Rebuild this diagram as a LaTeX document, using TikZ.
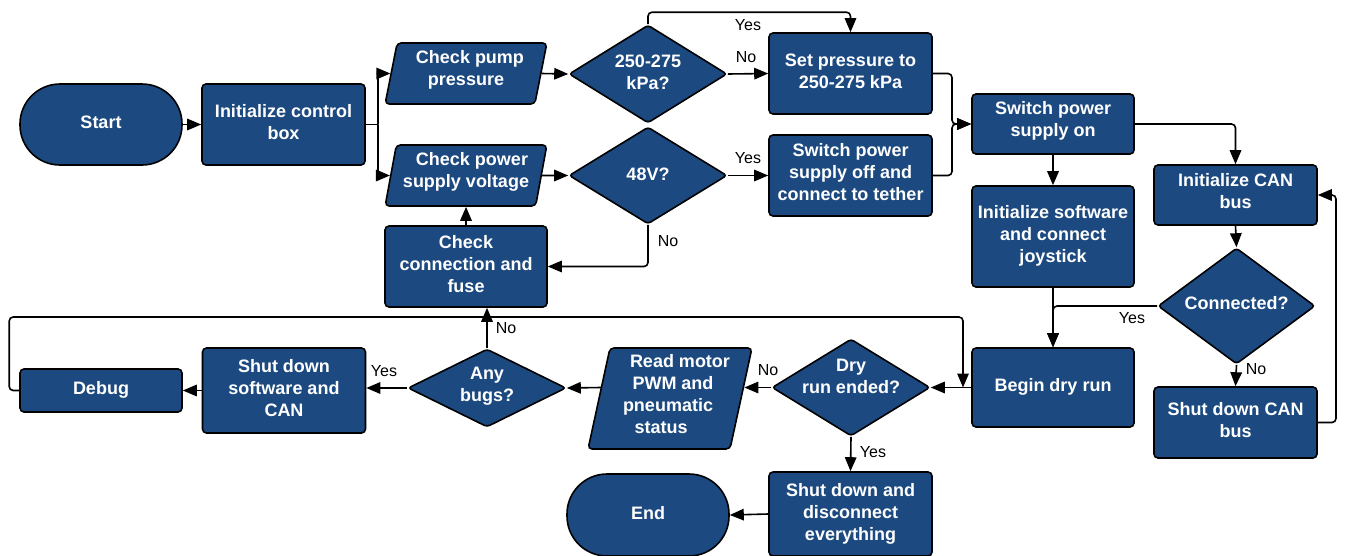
\documentclass[tikz,border=0pt]{standalone}
\usepackage{fontspec}
\setmainfont{Liberation Sans}
\usetikzlibrary{shapes.geometric,arrows.meta,calc}
\definecolor{boxblue}{RGB}{28,74,128}
\newcommand{\tx}[2][0]{\raisebox{#1pt}[\height][\depth]{\begin{tabular}{@{}c@{}}#2\end{tabular}}}
\begin{document}
\begin{tikzpicture}[x=1pt,y=-1pt,
  base/.style={draw=black, line width=1.6pt, fill=boxblue, text=white, font=\bfseries\fontsize{18}{22}\selectfont, inner sep=0pt},
  box/.style={base, rectangle, rounded corners=4pt},
  term/.style={base, rectangle, rounded corners=40pt},
  para/.style={base, trapezium, trapezium stretches=true, rounded corners=4pt},
  dec/.style={base, diamond, rounded corners=3pt},
  dtext/.style={text=white, font=\bfseries\fontsize{18}{22}\selectfont, inner sep=0pt},
  lbl/.style={font=\fontsize{16}{19}\selectfont, inner sep=0pt},
  flow/.style={line width=1.6pt, -{Triangle[length=14pt,width=11.5pt]}, rounded corners=4pt},
  plainline/.style={line width=1.6pt, rounded corners=4pt}]
\useasboundingbox (0,0) rectangle (1346,555);
\clip (0,0) rectangle (1346,555);

% process and terminal nodes
\node[term, minimum width=162pt, minimum height=81pt] (start) at (101,124.5) {\tx{Start}};
\node[box, minimum width=163pt, minimum height=81pt] (init) at (283.5,124.5) {\tx{Initialize control\\box}};
\node[para, trapezium left angle=77, trapezium right angle=103, minimum width=162pt, minimum height=61pt] (pump) at (466,73.5) {\tx[3]{\hspace*{8pt}Check pump\\pressure}};
\node[para, trapezium left angle=77, trapezium right angle=103, minimum width=162pt, minimum height=61pt] (volt) at (466,175.5) {\tx[3]{\hspace*{12pt}Check power\\supply voltage}};
\node[box, minimum width=162pt, minimum height=81pt] (conn) at (466,266.5) {\tx{Check\\connection and\\fuse}};
\node[box, minimum width=163pt, minimum height=81pt] (setp) at (850.5,73.5) {\tx{Set pressure to\\250-275 kPa}};
\node[box, minimum width=163pt, minimum height=81pt] (swoff) at (850.5,175.5) {\tx[1]{Switch power\\supply off and\\connect to tether}};
\node[box, minimum width=162pt, minimum height=60pt] (swon) at (1053,124) {\tx[3]{Switch power\\supply on}};
\node[box, minimum width=162pt, minimum height=101pt] (initsw) at (1053,236.5) {\tx{Initialize software\\and connect\\joystick}};
\node[box, minimum width=163pt, minimum height=60pt] (initcan) at (1235.5,195) {\tx[2]{Initialize CAN\\bus}};
\node[box, minimum width=163pt, minimum height=71pt] (shutcan) at (1235.5,422.5) {\tx{Shut down CAN\\bus}};
\node[box, minimum width=162pt, minimum height=79pt] (begin) at (1053,387.5) {\tx{Begin dry run}};
\node[para, trapezium left angle=76, trapezium right angle=104, minimum width=160pt, minimum height=101pt] (read) at (670,398.5) {\tx[2]{\hspace*{20pt}Read motor\\\hspace*{6pt}PWM and\\pneumatic\hspace*{4pt}\\status\hspace*{18pt}}};
\node[box, minimum width=163pt, minimum height=85pt] (shutsw) at (284,390.5) {\tx{Shut down\\software and\\CAN}};
\node[box, minimum width=162pt, minimum height=43pt] (debug) at (101,390.5) {\tx{Debug}};
\node[box, minimum width=163pt, minimum height=84pt] (shutall) at (850.5,514) {\tx{Shut down and\\disconnect\\everything}};
\node[term, minimum width=162pt, minimum height=82pt] (endn) at (648,515) {\tx{End}};

% decision nodes (shape) and their texts
\node[dec, minimum width=158pt, minimum height=98pt] (d1) at (648,74) {};
\node[dtext] (d1t) at (d1) {\tx{250-275\\kPa?}};
\node[dec, minimum width=158pt, minimum height=97pt] (d2) at (648,175.5) {};
\node[dtext] (d2t) at (d2) {\tx[-1]{48V?}};
\node[dec, minimum width=157pt, minimum height=116pt] (dconn) at (1236.5,306) {};
\node[dtext] (dconnt) at (dconn) {\tx[1]{Connected?}};
\node[dec, minimum width=158pt, minimum height=97pt] (ddry) at (851,387.5) {};
\node[dtext] (ddryt) at (ddry) {\tx[9]{Dry\\run ended?}};
\node[dec, minimum width=158pt, minimum height=78pt] (dbugs) at (487,388) {};
\node[dtext] (dbugst) at (dbugs) {\tx[2]{Any\\bugs?}};

% helper coordinates
\coordinate (split) at (378,124.5);
\coordinate (merge) at (952,124);
\coordinate (canloop) at (1336,422.5);
\coordinate (looptop) at (963,317);
\coordinate (mergedry) at (963,387.5);

% connectors
\draw[flow] (start) -- (init);
\draw[plainline] (init.east) -- (split);
\draw[flow] (split) |- (pump.west);
\draw[flow] (split) |- (volt.west);
\draw[flow] (pump.east) -- (d1.west);
\draw[flow] (volt.east) -- (d2.west);
\draw[flow] (d1.east) -- (setp.west);
\draw[flow] (d1.north) -- ++(0,-12) -| (setp.north);
\draw[flow] (d2.east) -- (swoff.west);
\draw[flow] (d2.south) |- (conn.east);
\draw[flow] (conn.north) -- (volt.south);
\draw[flow] (setp.east) -| (merge) -- (swon.west);
\draw[flow] (swoff.east) -| (merge) -- (swon.west);
\draw[flow] (swon.east) -| (initcan.north);
\draw[flow] (swon.south) -- (initsw.north);
\draw[flow] (initsw.south) -- (begin.north);
\draw[flow] (initcan.south) -- (dconn.north);
\draw[flow] (dconn.west) -| (begin.north);
\draw[flow] (dconn.south) -- (shutcan.north);
\draw[flow] (shutcan.east) -- (canloop) |- (initcan.east);
\draw[flow] (begin.west) -- (ddry.east);
\draw[flow] (ddry.west) -- ($(ddry.west -| read.east)+(2.6,0)$);
\draw[flow] ($(ddry.west -| read.west)+(2.6,0)$) -- (dbugs.east);
\draw[flow] (dbugs.west) -- (dbugs.west -| shutsw.east);
\draw[flow] (dbugs.north) -- (dbugs.north |- conn.south);
\draw[flow] (shutsw.west) -- (debug.east);
\draw[flow] (debug.west) -- ++(-10,0) |- (looptop) -- (mergedry);
\draw[flow] (ddry.south) -- (shutall.north);
\draw[flow] (shutall.west) -- (endn.east);

% labels
\node[lbl] (l1) at (748,25) {Yes};
\node[lbl] (l2) at (746,57) {No};
\node[lbl] (l3) at (748,158) {Yes};
\node[lbl] (l4) at (668,241) {No};
\node[lbl] (l5) at (1132,318) {Yes};
\node[lbl] (l6) at (1256,369) {No};
\node[lbl] (l7) at (768,370) {No};
\node[lbl] (l8) at (873,452) {Yes};
\node[lbl] (l9) at (384,371) {Yes};
\node[lbl] (l10) at (506,328) {No};
\end{tikzpicture}
\end{document}
